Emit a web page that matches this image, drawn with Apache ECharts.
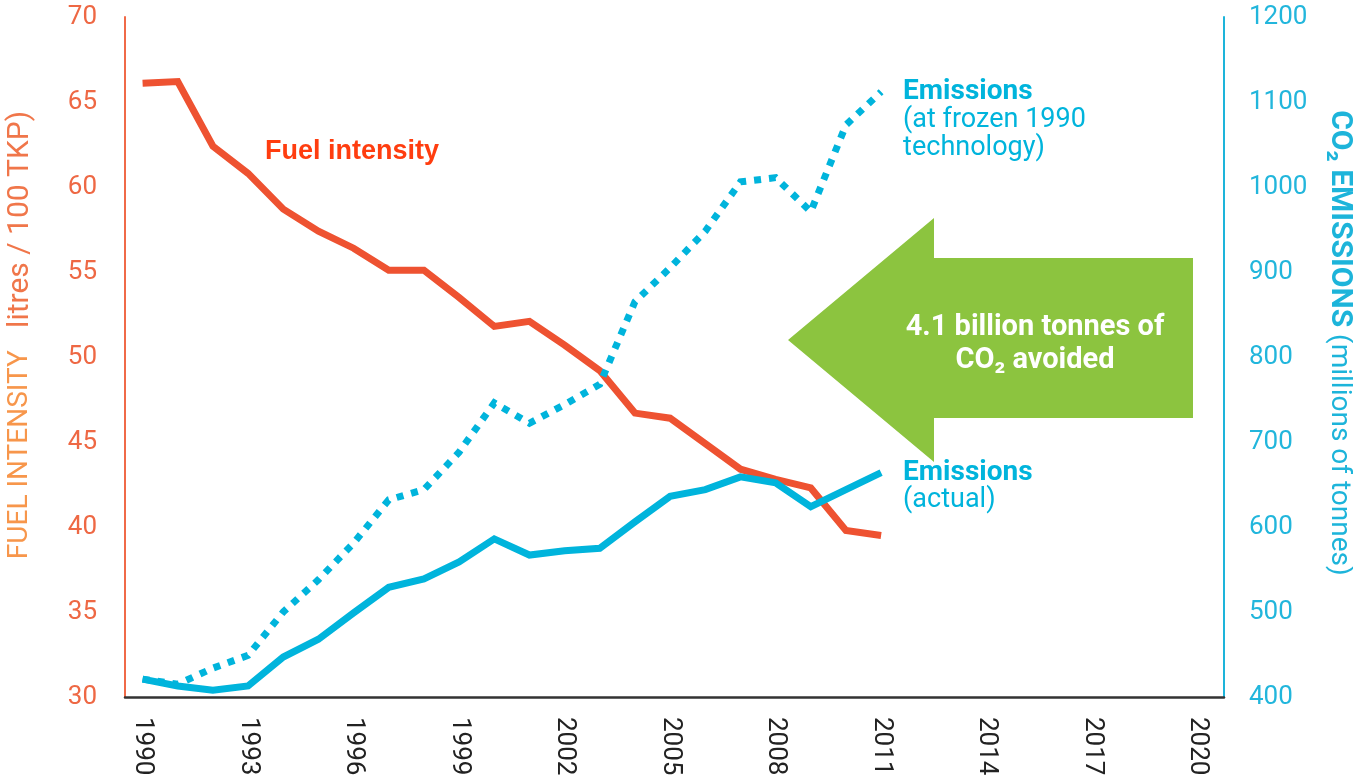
<!DOCTYPE html>
<html>
<head>
<meta charset="utf-8">
<title>Fuel intensity and CO2 emissions</title>
<script src="https://cdn.jsdelivr.net/npm/echarts@6/dist/echarts.min.js"></script>
<style>
    html, body { margin: 0; padding: 0; background: #fff; }
    #charts { width: 1353px; height: 776px; }
</style>
</head>
<body>
<div id="charts"></div>
<script>
    // data
    let years = [1990, 1991, 1992, 1993, 1994, 1995, 1996, 1997, 1998, 1999, 2000,
        2001, 2002, 2003, 2004, 2005, 2006, 2007, 2008, 2009, 2010, 2011];
    let fuelIntensity = [66.1, 66.2, 62.4, 60.8, 58.7, 57.4, 56.4, 55.1, 55.1, 53.5, 51.8,
        52.1, 50.7, 49.2, 46.7, 46.4, 44.9, 43.4, 42.8, 42.3, 39.8, 39.5];
    let emissionsActual = [421, 413, 408, 413, 447, 468, 499, 529, 539, 559, 586,
        567, 572, 575, 606, 636, 644, 659, 652, 624, 644, 664];
    let emissionsFrozen = [421, 415, 434, 449, 500, 538, 581, 632, 644, 688, 746,
        722, 744, 768, 865, 905, 948, 1006, 1011, 971, 1073, 1112];
    let yearTicks = [1990, 1993, 1996, 1999, 2002, 2005, 2008, 2011, 2014, 2017, 2020];

    const RED = '#EE5231';
    const CYAN = '#00B4DC';
    const FONT = 'Roboto';

    function pairs(values) {
        return years.map((y, i) => [y, values[i]]);
    }

    let mChart = echarts.init(document.getElementById('charts'));
    let options = {
        animation: false,
        textStyle: { fontFamily: FONT },
        grid: {
            left: 125,
            right: 129,
            top: 17,
            bottom: 79,
            containLabel: false,
            outerBoundsMode: 'none'
        },
        xAxis: {
            type: 'value',
            min: 1989.5,
            max: 2020.75,
            splitLine: { show: false },
            axisTick: { show: false },
            axisLine: { lineStyle: { color: '#333', width: 2.5 } },
            axisLabel: {
                customValues: yearTicks,
                formatter: v => String(v),
                rotate: -90,
                margin: 20,
                color: '#222',
                fontSize: 26,
                fontFamily: FONT
            }
        },
        yAxis: [
            {
                type: 'value',
                position: 'left',
                min: 30,
                max: 70,
                interval: 5,
                splitLine: { show: false },
                axisTick: { show: false },
                axisLine: { show: true, lineStyle: { color: '#F06A48', width: 2 } },
                axisLabel: { color: '#EE6844', fontSize: 26, margin: 28, fontFamily: FONT },
                name: '{a|FUEL INTENSITY}{b|   litres / 100 TKP)}',
                nameLocation: 'middle',
                nameRotate: 90,
                nameGap: 90,
                nameTextStyle: {
                    padding: [0, 0, 0, 44],
                    rich: {
                        a: { color: '#F7964B', fontSize: 28, fontFamily: FONT },
                        b: { color: '#F0764A', fontSize: 30, fontFamily: FONT }
                    }
                }
            },
            {
                type: 'value',
                position: 'right',
                min: 400,
                max: 1200,
                interval: 100,
                splitLine: { show: false },
                axisTick: { show: false },
                axisLine: { show: true, lineStyle: { color: '#1DB4DA', width: 2 } },
                axisLabel: {
                    color: '#22B6DC', fontSize: 26, margin: 25, fontFamily: FONT,
                    formatter: v => String(v)
                },
                name: '{a|CO₂ EMISSIONS}{b| (millions of tonnes)}',
                nameLocation: 'middle',
                nameRotate: -90,
                nameGap: 100,
                nameTextStyle: {
                    padding: [0, 28, 0, 0],
                    rich: {
                        a: { color: '#1DB4DA', fontSize: 30, fontWeight: 'bold', fontFamily: FONT },
                        b: { color: '#1DB4DA', fontSize: 28, fontFamily: FONT }
                    }
                }
            }
        ],
        series: [
            {
                name: 'Fuel intensity',
                type: 'line',
                yAxisIndex: 0,
                data: pairs(fuelIntensity),
                showSymbol: false,
                lineStyle: { color: RED, width: 7, cap: 'butt', join: 'miter' },
                z: 2
            },
            {
                name: 'Emissions (at frozen 1990 technology)',
                type: 'line',
                yAxisIndex: 1,
                data: pairs(emissionsFrozen),
                showSymbol: false,
                lineStyle: { color: CYAN, width: 7, type: [7, 8], cap: 'butt', join: 'miter' },
                endLabel: {
                    show: true,
                    distance: 22,
                    offset: [0, 28],
                    formatter: '{h|Emissions}\n{n|(at frozen 1990}\n{n|technology)}',
                    rich: {
                        h: { color: CYAN, fontSize: 28, fontWeight: 'bold', lineHeight: 28, fontFamily: FONT },
                        n: { color: CYAN, fontSize: 27, lineHeight: 28, fontFamily: FONT }
                    }
                },
                z: 3
            },
            {
                name: 'Emissions (actual)',
                type: 'line',
                yAxisIndex: 1,
                data: pairs(emissionsActual),
                showSymbol: false,
                lineStyle: { color: CYAN, width: 7, cap: 'butt', join: 'miter' },
                endLabel: {
                    show: true,
                    distance: 22,
                    offset: [0, 14],
                    formatter: '{h|Emissions}\n{n|(actual)}',
                    rich: {
                        h: { color: CYAN, fontSize: 28, fontWeight: 'bold', lineHeight: 28, fontFamily: FONT },
                        n: { color: CYAN, fontSize: 27, lineHeight: 28, fontFamily: FONT }
                    }
                },
                z: 4
            }
        ],
        graphic: [
            {
                type: 'polygon',
                z: 1,
                shape: {
                    points: [[788, 340], [934, 218], [934, 258], [1193, 258],
                        [1193, 418], [934, 418], [934, 462]]
                },
                style: { fill: '#8CC43F' }
            },
            {
                type: 'text',
                z: 5,
                x: 1035,
                y: 344,
                style: {
                    text: '4.1 billion tonnes of\nCO₂ avoided',
                    fill: '#fff',
                    font: 'bold 29px Roboto',
                    align: 'center',
                    verticalAlign: 'middle',
                    lineHeight: 33
                }
            },
            {
                type: 'text',
                z: 5,
                x: 265,
                y: 152,
                style: {
                    text: 'Fuel intensity',
                    fill: '#FF3D0F',
                    font: 'bold 27px "Liberation Sans"',
                    verticalAlign: 'middle'
                }
            }
        ]
    };
    mChart.setOption(options);
</script>
</body>
</html>
